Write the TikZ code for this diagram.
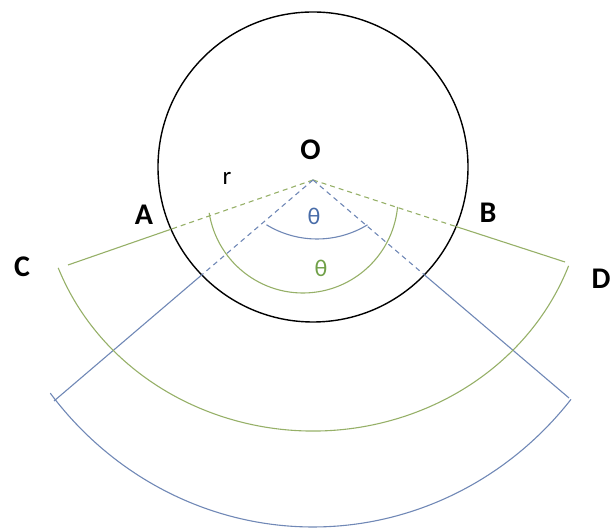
\documentclass[tikz,border=0pt]{standalone}
\usepackage{fontspec}
\setmainfont{Carlito}
\definecolor{gcol}{RGB}{150,176,104}
\definecolor{bcol}{RGB}{112,136,182}
\definecolor{gtxt}{RGB}{112,160,72}
\definecolor{btxt}{RGB}{72,108,168}
\tikzset{
  circ/.style={draw=black, line width=1.4pt},
  gline/.style={draw=gcol, line width=1.1pt},
  bline/.style={draw=bcol, line width=1.1pt},
  dsh/.style={dash pattern=on 5pt off 4pt},
  lbl/.style={anchor=base, inner sep=0pt, font=\fontsize{30}{34}\selectfont\bfseries},
  rlbl/.style={anchor=base, inner sep=0pt, font=\fontsize{25}{28}\selectfont},
  thlbl/.style={anchor=base, inner sep=0pt, font=\fontsize{24}{28}\selectfont}
}
\begin{document}
\begin{tikzpicture}[x=1pt,y=1pt]
\useasboundingbox (0,0) rectangle (614,529);
% points
\coordinate (O) at (313,349);
\coordinate (Q) at (313,362);
\coordinate (Ga) at (171.1,299.8);
\coordinate (Ce) at (68,264);
\coordinate (Gb) at (456.1,302.4);
\coordinate (De) at (565,267);
\coordinate (Ba) at (201.75,254.07);
\coordinate (Le) at (54,128);
\coordinate (Bb) at (424.35,254.18);
\coordinate (Re) at (569,131);
\coordinate (Gc) at (303,331);
\coordinate (Bc) at (317,387);
% circle
\draw[circ] (Q) circle[radius=155pt];
% green radii
\draw[gline,dsh] (O) -- (Ga);
\draw[gline] (Ga) -- (Ce);
\draw[gline,dsh] (O) -- (Gb);
\draw[gline] (Gb) -- (De);
% blue radii
\draw[bline,dsh] (O) -- (Ba);
\draw[bline] (Ba) -- (Le);
\draw[bline,dsh] (O) -- (Bb);
\draw[bline] (Bb) -- (Re);
% arcs
\draw[gline] (O) ++(200.5:272pt and 251pt) arc[start angle=200.5, end angle=340, x radius=272pt, y radius=251pt];
\draw[bline] (O) ++(217.9:333pt and 347pt) arc[start angle=217.9, end angle=320.8, x radius=333pt, y radius=347pt];
\draw[gline] (Gc) ++(189:95pt) arc[start angle=189, end angle=354.6, radius=95pt];
\draw[bline] (Bc) ++(238.6:97pt) arc[start angle=238.6, end angle=301.4, radius=97pt];
% labels
\node[lbl] (lO) at (310.5,369) {O};
\node[lbl] (lA) at (144,304) {A};
\node[lbl] (lB) at (488,306) {B};
\node[lbl] (lC) at (22,252) {C};
\node[lbl] (lD) at (601,240) {D};
\node[rlbl] (lr) at (227,344) {r};
\node[thlbl, text=btxt] (t1) at (314,304) {θ};
\node[thlbl, text=gtxt] (t2) at (321,252) {θ};
\end{tikzpicture}
\end{document}
